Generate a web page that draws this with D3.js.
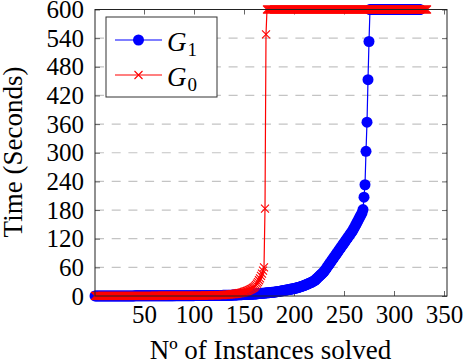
<!DOCTYPE html>
<html lang="en">
<head>
<meta charset="UTF-8">
<title>Instances solved</title>
<script src="https://d3js.org/d3.v7.min.js"></script>
<style>
  body { margin: 0; padding: 0; background: #fff; }
  svg { display: block; }
  svg text { font-family: 'Liberation Serif', 'DejaVu Serif', serif; }
</style>
</head>
<body>
<svg id="chart" width="466" height="364"></svg>
<script>
// solving time (s) per instance, sorted ; 600 = time limit
const g1Times = [
  0.1,0.1,0.1,0.1,0.1,0.1,0.1,0.1,0.1,0.1,0.1,0.1,0.1,0.1,0.1,0.1,0.1,0.1,0.1,0.1,
  0.2,0.2,0.2,0.2,0.2,0.2,0.2,0.2,0.2,0.2,0.2,0.2,0.2,0.2,0.2,0.2,0.2,0.2,0.2,0.2,
  0.3,0.3,0.3,0.3,0.3,0.3,0.3,0.3,0.3,0.3,0.3,0.3,0.3,0.3,0.3,0.3,0.3,0.3,0.3,0.3,
  0.4,0.4,0.4,0.4,0.4,0.4,0.4,0.4,0.4,0.4,0.5,0.5,0.5,0.5,0.5,0.5,0.5,0.5,0.5,0.5,
  0.6,0.6,0.6,0.6,0.6,0.6,0.6,0.6,0.6,0.6,0.7,0.7,0.7,0.7,0.7,0.7,0.7,0.7,0.7,0.7,
  0.8,0.8,0.8,0.8,0.8,0.8,0.8,0.8,0.8,0.8,0.9,0.9,0.9,0.9,0.9,0.9,0.9,0.9,0.9,0.9,
  1.0,1.0,1.1,1.1,1.2,1.2,1.3,1.3,1.4,1.4,1.5,1.5,1.6,1.6,1.7,1.7,1.8,1.8,1.9,2.0,
  2.1,2.2,2.3,2.4,2.5,2.6,2.7,2.8,2.9,3.0,3.1,3.2,3.3,3.4,3.5,3.6,3.7,3.8,3.9,4.0,
  4.2,4.4,4.6,4.8,5.0,5.2,5.4,5.6,5.8,6.0,6.2,6.4,6.6,6.8,7.0,7.2,7.4,7.6,7.8,8.0,
  8.4,8.7,9.0,9.3,9.6,10.0,10.4,10.8,11.2,11.6,12.0,12.4,12.8,13.2,13.6,14.0,14.4,14.8,15.2,15.6,
  16,16.6,17.2,17.8,18.4,19.1,19.8,20.5,21.2,22,22.8,23.6,24.5,25.4,26.3,27.3,28.3,29.3,30.4,31.5,
  33,35,37,39,41,43,45,47,49,51,54,57,60,63,66,69,72,75,78,81,
  84,87,90,93,96,99,102,105,108,111,114,117,120,123,126,129,132,135,138,142,
  146,150,154,158,162,166,170,174,181,207,233,303,364,453,533,
  600,600,600,600,600,600,600,600,600,600,600,600,600,600,600,600,600,600,600,600,
  600,600,600,600,600,600,600,600,600,600,600,600,600,600,600,600,600,600,600,600,
  600,600,600,600,600,600,600,600,600,600,600
];

const g0Times = [
  0.1,0.1,0.1,0.1,0.1,0.1,0.1,0.1,0.1,0.1,0.1,0.1,0.1,0.1,0.1,0.1,0.1,0.1,0.1,0.1,
  0.2,0.2,0.2,0.2,0.2,0.2,0.2,0.2,0.2,0.2,0.2,0.2,0.2,0.2,0.2,0.2,0.2,0.2,0.2,0.2,
  0.3,0.3,0.3,0.3,0.3,0.3,0.3,0.3,0.3,0.3,0.4,0.4,0.4,0.4,0.4,0.4,0.4,0.4,0.4,0.4,
  0.5,0.5,0.5,0.5,0.5,0.5,0.5,0.5,0.5,0.5,0.6,0.6,0.6,0.6,0.6,0.6,0.6,0.6,0.6,0.6,
  0.7,0.7,0.7,0.7,0.7,0.7,0.7,0.7,0.7,0.7,0.8,0.8,0.8,0.8,0.8,0.8,0.8,0.8,0.8,0.8,
  0.9,0.9,0.9,0.9,0.9,1.0,1.0,1.0,1.0,1.0,1.1,1.1,1.1,1.1,1.1,1.2,1.2,1.2,1.2,1.2,
  1.3,1.4,1.5,1.6,1.7,1.8,1.9,2.0,2.1,2.2,2.3,2.5,2.7,2.9,3.1,3.3,3.5,3.7,3.9,4.1,
  4.4,4.7,5.0,5.4,5.8,6.2,6.7,7.2,7.8,8.4,9.0,9.7,10.5,11.3,12.2,13.2,14.3,15.5,16.8,18.2,
  20,23,26,29,33,37,42,47,53,60,183,548,
  600,600,600,600,600,600,600,600,600,600,600,600,600,600,600,600,600,600,600,600,
  600,600,600,600,600,600,600,600,600,600,600,600,600,600,600,600,600,600,600,600,
  600,600,600,600,600,600,600,600,600,600,600,600,600,600,600,600,600,600,600,600,
  600,600,600,600,600,600,600,600,600,600,600,600,600,600,600,600,600,600,600,600,
  600,600,600,600,600,600,600,600,600,600,600,600,600,600,600,600,600,600,600,600,
  600,600,600,600,600,600,600,600,600,600,600,600,600,600,600,600,600,600,600,600,
  600,600,600,600,600,600,600,600,600,600,600,600,600,600,600,600,600,600,600,600,
  600,600,600,600,600,600,600,600,600,600,600,600,600,600,600,600,600,600,600,600,
  600
];

const xTicks = [50, 100, 150, 200, 250, 300, 350];
const yTicks = [0, 60, 120, 180, 240, 300, 360, 420, 480, 540, 600];

const svg = d3.select('#chart');
const plotLeft = 95, plotRight = 447, plotTop = 9.5, plotBottom = 296;

const x = d3.scaleLinear().domain([1, 353]).range([plotLeft, plotRight]);
const y = d3.scaleLinear().domain([0, 600]).range([plotBottom, plotTop]);

svg.append('rect').attr('width', 466).attr('height', 364).attr('fill', '#fff');

// dashed grid
svg.append('g')
  .selectAll('line')
  .data(yTicks.slice(1, -1))
  .enter().append('line')
  .attr('x1', plotLeft).attr('x2', plotRight)
  .attr('y1', d => y(d)).attr('y2', d => y(d))
  .attr('stroke', '#c4c4c4')
  .attr('stroke-width', 1.2)
  .attr('stroke-dasharray', '9,7.7');

// ticks
const styleAxis = g => {
  g.attr('font-family', null).attr('font-size', null);
  g.select('.domain').remove();
  g.selectAll('.tick line').attr('stroke', '#555').attr('stroke-width', 0.9);
  g.selectAll('.tick text').attr('fill', '#000').style('font-size', '25px');
};

svg.append('g').attr('transform', `translate(0,${plotBottom})`)
  .call(d3.axisBottom(x).tickValues(xTicks).tickSize(-5).tickPadding(9))
  .call(styleAxis);
svg.append('g').attr('transform', `translate(0,${plotTop})`)
  .call(d3.axisTop(x).tickValues(xTicks).tickSize(-5).tickFormat(''))
  .call(styleAxis);
svg.append('g').attr('transform', `translate(${plotLeft},0)`)
  .call(d3.axisLeft(y).tickValues(yTicks).tickSize(-5).tickPadding(11))
  .call(styleAxis);
svg.append('g').attr('transform', `translate(${plotRight},0)`)
  .call(d3.axisRight(y).tickValues(yTicks).tickSize(-5).tickFormat(''))
  .call(styleAxis);

// series
const line = d3.line().x((d, i) => x(i + 1)).y(d => y(d));
const crossPath = 'M-4,-4L4,4M-4,4L4,-4';

svg.append('path').datum(g1Times)
  .attr('d', line).attr('fill', 'none').attr('stroke', 'blue').attr('stroke-width', 1.2);
svg.append('g').selectAll('circle')
  .data(g1Times).enter().append('circle')
  .attr('cx', (d, i) => x(i + 1)).attr('cy', d => y(d))
  .attr('r', 5.5).attr('fill', 'blue');

svg.append('path').datum(g0Times)
  .attr('d', line).attr('fill', 'none').attr('stroke', 'red').attr('stroke-width', 1.2);
svg.append('g').selectAll('path')
  .data(g0Times).enter().append('path')
  .attr('transform', (d, i) => `translate(${x(i + 1)},${y(d)})`)
  .attr('d', crossPath).attr('stroke', 'red').attr('stroke-width', 1.1).attr('fill', 'none');

// frame
svg.append('rect')
  .attr('x', plotLeft).attr('y', plotTop)
  .attr('width', plotRight - plotLeft).attr('height', plotBottom - plotTop)
  .attr('fill', 'none').attr('stroke', '#222').attr('stroke-width', 1);

// legend
const legend = svg.append('g');
legend.append('rect')
  .attr('x', 106).attr('y', 17).attr('width', 111).attr('height', 80)
  .attr('fill', '#fff').attr('stroke', '#333').attr('stroke-width', 1);

const legendItems = [
  {name: 'G', sub: '1', color: 'blue', mark: 'circle'},
  {name: 'G', sub: '0', color: 'red', mark: 'cross'}
];
legendItems.forEach((d, i) => {
  const ly = 40 + i * 35;
  legend.append('line')
    .attr('x1', 115).attr('x2', 162).attr('y1', ly).attr('y2', ly)
    .attr('stroke', d.color).attr('stroke-width', 1.2);
  if (d.mark === 'circle') {
    legend.append('circle').attr('cx', 138.5).attr('cy', ly).attr('r', 5.5).attr('fill', d.color);
  } else {
    legend.append('path').attr('transform', `translate(138.5,${ly})`)
      .attr('d', crossPath).attr('stroke', d.color).attr('stroke-width', 1.1);
  }
  const t = legend.append('text')
    .attr('x', 167).attr('y', ly + 11)
    .style('font-size', '27px').style('font-style', 'italic');
  t.append('tspan').text(d.name);
  t.append('tspan').style('font-style', 'normal').style('font-size', '19px')
    .attr('dx', 1).attr('dy', 5).text(d.sub);
});

// axis labels
svg.append('text')
  .attr('x', 270.5).attr('y', 359)
  .attr('text-anchor', 'middle').style('font-size', '27px')
  .text('Nº of Instances solved');

svg.append('text')
  .attr('transform', 'translate(22,152) rotate(-90)')
  .attr('text-anchor', 'middle').style('font-size', '27px')
  .text('Time (Seconds)');
</script>
</body>
</html>
